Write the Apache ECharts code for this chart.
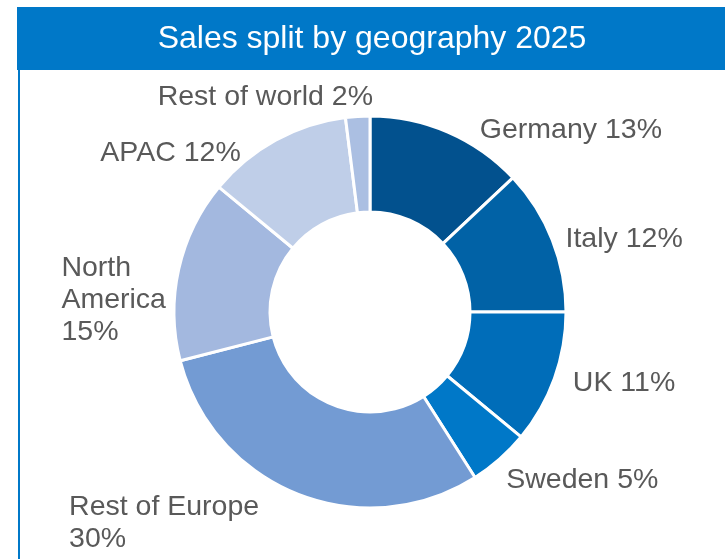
<!DOCTYPE html>
<html>
<head>
<meta charset="utf-8">
<title>Sales split by geography 2025</title>
<script src="https://cdn.jsdelivr.net/npm/echarts@6/dist/echarts.min.js"></script>
<style>
  html, body { margin: 0; padding: 0; background: #fff; }
  #main { width: 725px; height: 559px; }
</style>
</head>
<body>
<div id="main"></div>
<script>
// data
var regions = ['Germany', 'Italy', 'UK', 'Sweden', 'Rest of Europe', 'North America', 'APAC', 'Rest of world'];
var shares = [13, 12, 11, 5, 30, 15, 12, 2];
var labelText = ['Germany 13%', 'Italy 12%', 'UK 11%', 'Sweden 5%', 'Rest of Europe\n30%', 'North\nAmerica\n15%', 'APAC 12%', 'Rest of world 2%'];

var colors = ['#02518E', '#0162A6', '#006DB9', '#0078C8', '#739BD3', '#A3B8DF', '#BFCEE8', '#ABBFE2'];
// nudges for each label from the default outside spot (Excel placed them by hand)
var labelNudge = [[13, 7], [-11, 3], [-6, 1], [-15, 14], [-20, 20], [12, 33], [-15, 22], [31, -9]];

var chart = echarts.init(document.getElementById('main'));

var pieData = [];
for (var i = 0; i < regions.length; i++) {
    pieData.push({
        name: regions[i],
        value: shares[i],
        itemStyle: { color: colors[i] },
        label: { formatter: labelText[i] }
    });
}

var option = {
    animation: false,
    graphic: [
        {
            type: 'rect',
            shape: { x: 17, y: 7, width: 710, height: 63 },
            style: { fill: '#0078C8' }
        },
        {
            type: 'line',
            shape: { x1: 19, y1: 70, x2: 19, y2: 560 },
            style: { stroke: '#0078C8', lineWidth: 2 }
        },
        {
            type: 'text',
            x: 372, y: 39,
            style: {
                text: 'Sales split by geography 2025',
                fill: '#fff',
                font: '32px "Liberation Sans", Arial, sans-serif',
                align: 'center',
                verticalAlign: 'middle'
            }
        }
    ],
    series: [
        {
            type: 'pie',
            center: [370, 312],
            radius: [100, 196],
            startAngle: 90,
            clockwise: true,
            avoidLabelOverlap: false,
            itemStyle: { borderColor: '#fff', borderWidth: 3 },
            label: {
                show: true,
                position: 'outside',
                color: '#595959',
                fontSize: 28.5,
                lineHeight: 32,
                fontFamily: '"Liberation Sans", Arial, sans-serif'
            },
            labelLine: { show: false, length: 10, length2: 10 },
            emphasis: { disabled: true },
            labelLayout: function (p) {
                var n = labelNudge[p.dataIndex];
                return {
                    x: p.labelRect.x + n[0],
                    y: p.labelRect.y + n[1],
                    align: 'left',
                    verticalAlign: 'top'
                };
            },
            data: pieData
        }
    ]
};

chart.setOption(option);
</script>
</body>
</html>
